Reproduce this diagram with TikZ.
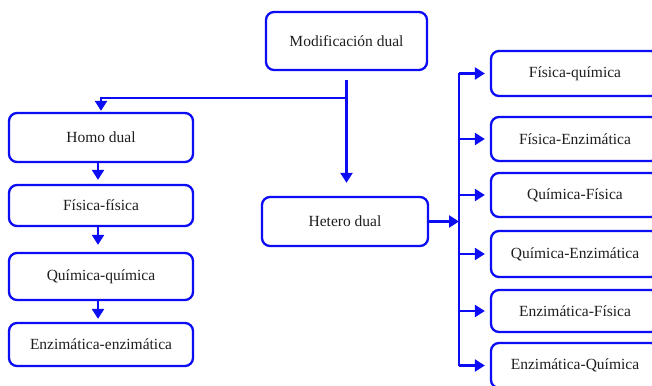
\documentclass[tikz,border=0pt]{standalone}
\usepackage{fontspec}
\setmainfont{Liberation Serif}
\usetikzlibrary{arrows.meta}
\definecolor{flowblue}{RGB}{12,12,245}
\definecolor{labelgray}{RGB}{30,30,30}
\begin{document}
\begin{tikzpicture}[x=1pt,y=-1pt,
  box/.style={draw=flowblue, line width=2.3pt, rounded corners=8pt, fill=white,
    text=labelgray, font=\fontsize{15.5}{18}\selectfont, inner sep=0pt},
  link/.style={draw=flowblue, line width=2.3pt},
  arr/.style={link, -{Triangle[width=12pt,length=10pt]}}]
\clip (0,0) rectangle (652,385);
\fill[white] (0,0) rectangle (652,385);

% root
\node[box, minimum width=161pt, minimum height=58pt] (mod) at (346.5,41) {Modificación dual};

% homogeneous branch
\node[box, minimum width=184pt, minimum height=49pt] (homo) at (101,137.5) {Homo dual};
\node[box, minimum width=184pt, minimum height=41pt] (ff) at (101,205.5) {Física-física};
\node[box, minimum width=184pt, minimum height=47pt] (qq) at (101,276.5) {Química-química};
\node[box, minimum width=184pt, minimum height=43pt] (ee) at (101,344.5) {Enzimática-enzimática};

% heterogeneous branch
\node[box, minimum width=166pt, minimum height=49pt] (het) at (345,221.5) {Hetero dual};
\node[box, minimum width=168pt, minimum height=45pt] (fq) at (575,73.5) {Física-química};
\node[box, minimum width=168pt, minimum height=44pt] (fe) at (575,139) {Física-Enzimática};
\node[box, minimum width=168pt, minimum height=44pt] (qf) at (575,195) {Química-Física};
\node[box, minimum width=168pt, minimum height=46pt] (qe) at (575,254) {Química-Enzimática};
\node[box, minimum width=168pt, minimum height=42pt] (ef) at (575,311) {Enzimática-Física};
\node[box, minimum width=168pt, minimum height=45pt] (eq) at (575,365.5) {Enzimática-Química};

% root connectors
\coordinate (top) at ([yshift=-9pt]mod.south);
\coordinate (split) at ([yshift=-27pt]mod.south);
\draw[arr, shorten >=13pt] (top) -- (top |- het.north);
\draw[arr] (split) -| ([yshift=1pt]homo.north);

% homogeneous chain
\draw[arr, shorten >=4pt] ([xshift=-3pt]homo.south) -- ([xshift=-3pt]ff.north);
\draw[arr, shorten >=7pt] ([xshift=-3pt]ff.south) -- ([xshift=-3pt]qq.north);
\draw[arr, shorten >=3pt] ([xshift=-3pt]qq.south) -- ([xshift=-3pt]ee.north);

% heterogeneous fan-out
\coordinate (bus) at (459,0);
\draw[arr] (het.east) -- (bus |- het.east);
\draw[link] (bus |- fq.west) -- (bus |- eq.west);
\foreach \n in {fq,fe,qf,qe,ef,eq}
  \draw[arr, shorten >=5pt] (bus |- \n.west) -- (\n.west);
\end{tikzpicture}
\end{document}
